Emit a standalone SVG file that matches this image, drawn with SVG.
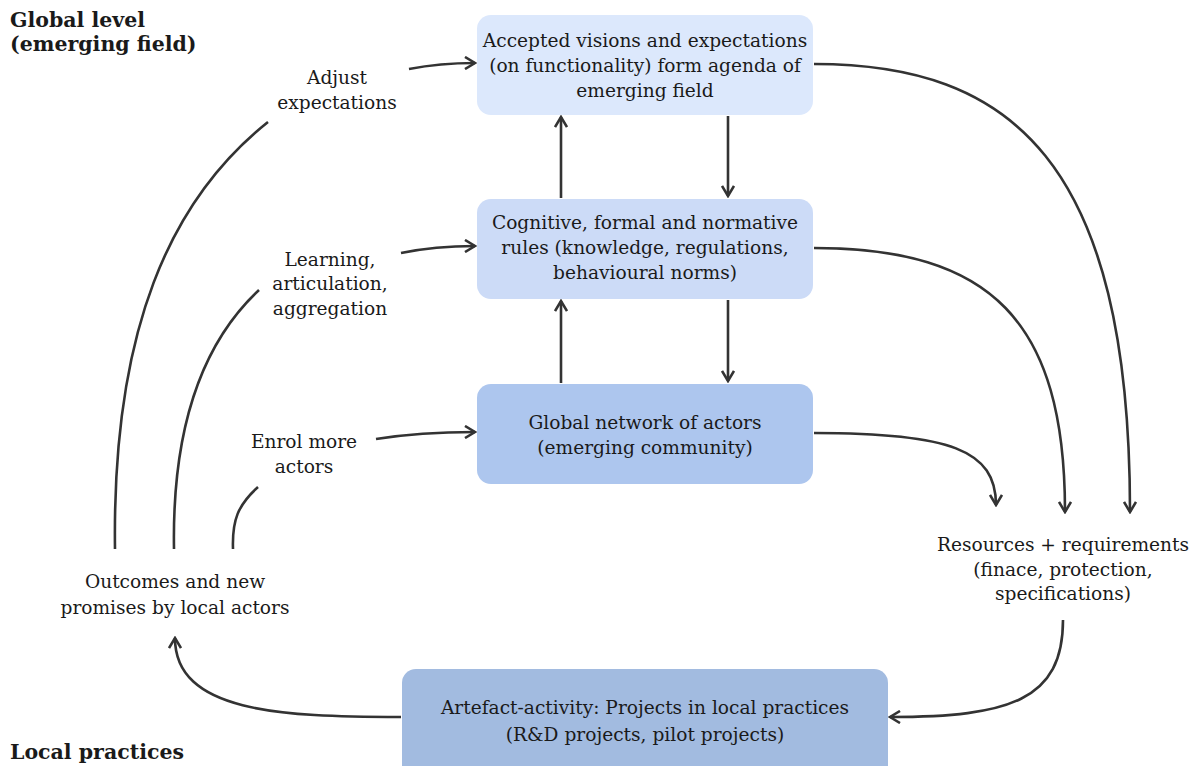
<svg xmlns="http://www.w3.org/2000/svg" width="1197" height="766" viewBox="0 0 1197 766">
<style>
text{font-family:"DejaVu Serif","Liberation Serif",serif;font-size:18.6px;fill:#1a1a1a;text-anchor:middle}
.h{font-weight:bold;text-anchor:start;font-size:20.5px}
.c{fill:none;stroke:#333;stroke-width:2.6}
.a{marker-end:url(#ah)}
</style>
<defs>
<marker id="ah" viewBox="0 0 14 14" refX="12" refY="7" markerWidth="14" markerHeight="14" markerUnits="userSpaceOnUse" orient="auto">
<path d="M2,1 L12,7 L2,13" fill="none" stroke="#333" stroke-width="2.6"/>
</marker>
</defs>
<rect width="1197" height="766" fill="#fff"/>
<g id="title-global"><text class="h" x="10" y="27">Global level</text><text class="h" x="10" y="51">(emerging field)</text></g>
<g id="title-local"><text class="h" x="10" y="759">Local practices</text></g>
<g id="connectors">
<path class="c a" d="M409,69 Q440,63 475,63"/>
<path class="c a" d="M401,253 Q435,246 475,246"/>
<path class="c a" d="M376,439 Q420,432 475,432"/>
<path class="c" d="M115,549 C112,330 170,200 268,122"/>
<path class="c" d="M174,549 C172,430 200,345 259,290"/>
<path class="c" d="M233,549 C232,520 238,505 258,487"/>
<path class="c a" d="M561,198 L561,117"/>
<path class="c a" d="M728,116 L728,196"/>
<path class="c a" d="M561,383 L561,301"/>
<path class="c a" d="M728,300 L728,381"/>
<path class="c a" d="M814,64 C1010,64 1130,160 1130,512"/>
<path class="c a" d="M814,248 C990,248 1065,320 1065,512"/>
<path class="c a" d="M814,433 C950,433 996,450 996,505"/>
<path class="c a" d="M1063,620 C1063,700 1010,717 890,717"/>
<path class="c a" d="M401,717 C280,717 175,712 175,638"/>
</g>
<g id="n-visions"><rect x="477" y="15" width="336" height="100" rx="14" fill="#dce8fc"/>
<text x="645" y="47">Accepted visions and expectations</text><text x="645" y="72">(on functionality) form agenda of</text><text x="645" y="97">emerging field</text></g>
<g id="n-rules"><rect x="477" y="199" width="336" height="100" rx="14" fill="#ccdbf7"/>
<text x="645" y="229">Cognitive, formal and normative</text><text x="645" y="254">rules (knowledge, regulations,</text><text x="645" y="279">behavioural norms)</text></g>
<g id="n-network"><rect x="477" y="384" width="336" height="100" rx="14" fill="#adc6ee"/>
<text x="645" y="429">Global network of actors</text><text x="645" y="454">(emerging community)</text></g>
<g id="n-artefact"><rect x="402" y="669" width="486" height="110" rx="14" fill="#a2bbe0"/>
<text x="645" y="714">Artefact-activity: Projects in local practices</text><text x="645" y="741">(R&amp;D projects, pilot projects)</text></g>
<g id="l-adjust"><text x="337" y="84">Adjust</text><text x="337" y="109">expectations</text></g>
<g id="l-learning"><text x="330" y="266">Learning,</text><text x="330" y="290">articulation,</text><text x="330" y="315">aggregation</text></g>
<g id="l-enrol"><text x="304" y="448">Enrol more</text><text x="304" y="473">actors</text></g>
<g id="l-outcomes"><text x="175" y="588">Outcomes and new</text><text x="175" y="614">promises by local actors</text></g>
<g id="l-resources"><text x="1063" y="551">Resources + requirements</text><text x="1063" y="576">(finace, protection,</text><text x="1063" y="600">specifications)</text></g>
</svg>
